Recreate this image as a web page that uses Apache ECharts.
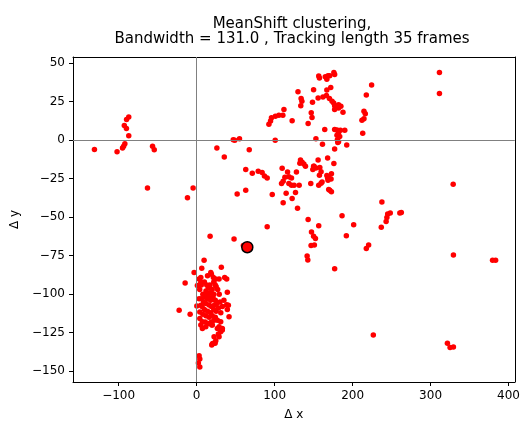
<!DOCTYPE html>
<html>
<head>
<meta charset="utf-8">
<script src="https://cdn.jsdelivr.net/npm/echarts@6/dist/echarts.min.js"></script>
<style>html,body{margin:0;padding:0;background:#fff}#c{width:523px;height:426px}</style>
</head>
<body>
<div id="c"></div>
<script>
const titleLines = ["MeanShift clustering,", "Bandwidth = 131.0 , Tracking length 35 frames"];
const xTicks = [-100, 0, 100, 200, 300, 400];
const yTicks = [-150, -125, -100, -75, -50, -25, 0, 25, 50];
const xName = "\u0394 x";
const yName = "\u0394 y";

const leftGroup = [[-131,-6],[-102,-7.5],[-95,-5],[-93.6,-4],[-92,-2.4],[-87,2.8],[-90,7.5],[-92.7,9.6],[-89.8,13.5],[-87,15],[-56.5,-4],[-54.3,-6.2],[-63,-31],[-4.5,-31],[-11.7,-37.4],[26,-5],[35.5,-11],[47,0.2],[49,0],[55,1],[67.5,-6.2],[100.8,0]];

const upperGroup = [[92.7,10.3],[94.8,12.4],[96,14.5],[101,15.6],[105.5,16.2],[110.6,16.2],[112,19.9],[122.5,12.6],[130,31.4],[134,27],[135,25.2],[133.6,22.4],[143,10.9],[147,17.8],[148,14.7],[148.6,24.6],[150,32.7],[156.6,41.7],[157.5,40.4],[165,41.2],[168.5,41.9],[167,39.5],[170.7,41.9],[176,44],[177,42.7],[172,34.2],[167,32.5],[162,28],[155.8,27.4],[166.5,29],[170.3,27],[173.7,25.2],[175.8,24.1],[177,22.4],[182,23],[185,22],[182,20.9],[177,19.9],[187.7,18.2],[224.4,35.9],[217.6,29.3],[214.6,18.8],[216.3,17.1],[212,13],[214.6,13.9],[213,4.5],[164.3,7],[177,7],[180,6.6],[184.4,6.4],[190,6.4],[182,4.9],[180,3.2],[183.5,2.4],[180.5,0.2],[182,-1],[181,-1.5],[153,1],[161.4,-2.6],[192.5,-3.2],[177,-5.8],[168,-11.5],[176,-15.2],[155.8,-12.8]];

const middleGroup = [[150,-17],[153,-18],[158,-17.7],[159.6,-20.5],[157.5,-22.7],[167,-22.9],[169.4,-24],[172.9,-21.8],[168,-24.6],[172.4,-25.2],[168.5,-26],[159.6,-28],[156.6,-29.3],[160.9,-27.1],[169.4,-32],[172.9,-33.5],[170.7,-32.5],[146.4,-28.2],[133.2,-12.8],[135.3,-14.3],[137.5,-15.4],[132.4,-14.9],[139.6,-16.9],[150.6,-16.9],[149,-19],[109.7,-18.2],[116.6,-20.7],[113.2,-24],[118.3,-23.7],[121.7,-24.6],[128,-20.7],[111,-26.7],[108.9,-28.2],[118.3,-28.2],[121.7,-29.3],[125,-29.3],[131.5,-29.3],[114.8,-34.4],[126.8,-34],[122.5,-37.8],[111,-40.6],[129.4,-44.2],[97,-35.3],[63,-19],[71.4,-21.4],[79,-20.1],[84,-21],[87,-23.3],[90.5,-24.6],[52,-35],[63,-32.5],[90.5,-56.2],[17.3,-62.4],[48,-64.1],[60,-68.4]];

const rightGroup = [[237.6,-40.2],[245,-47.9],[248.3,-47.2],[260.6,-47.2],[262.5,-47],[244,-50.2],[243,-52.8],[236.8,-56.6],[186.5,-49],[201.4,-54.9],[192,-62],[220.6,-68],[217.6,-70.3],[177,-83.5],[143,-51.5],[156.6,-55.6],[147.3,-59.6],[150,-62.4],[152.4,-63.9],[146.8,-68.4],[151,-68],[141.7,-75.2],[142.6,-77.8],[311.4,44],[311.4,30.3],[329,-28.6],[329.3,-74.6],[379.5,-78],[383.4,-78],[226.6,-126.5],[321.6,-131.8],[325,-134.6],[329.3,-134.2]];

const lowerGroup = [[9.6,-78],[-3.2,-85.9],[6.6,-83.1],[18.2,-85.9],[31.7,-82.5],[-14.7,-92.8],[3.2,-90.2],[5.4,-92.3],[21.5,-89.1],[24.5,-90.2],[28.8,-90.2],[36,-89.1],[38.6,-90.2],[23.7,-93.8],[39.4,-98.7],[-22.4,-110.4],[-8.3,-113],[0.3,-107.7],[40.7,-107.2],[39.4,-110],[41.6,-114.7],[38.6,-106.8],[4.1,-111.5],[4.1,-115.8],[7.4,-117.9],[5.4,-120],[11.8,-121.2],[20.2,-120],[26.6,-116.9],[30.9,-117.9],[28.8,-121.2],[33,-122.2],[30.9,-124.4],[27.9,-125.8],[22.4,-127.6],[24.6,-130.3],[20.2,-132.2],[23.7,-131.9],[26.6,-122.2],[33,-123.3],[28.8,-127.6],[21.5,-131.9],[19.4,-132.9],[19.4,-120],[22.4,-116.9],[3.2,-103],[5.4,-107.2],[1,-94.4],[5.4,-89.1],[7.4,-122.2],[3.2,-139.9],[4.1,-142.1],[2.3,-144.7],[4.1,-147.2]];

const coreGroup = [[10,-92],[13,-94],[15,-96],[12,-98],[17,-99],[20,-97],[22,-100],[8,-100],[11,-102],[14,-103],[18,-104],[21,-102],[24,-104],[9,-105],[12,-106],[16,-107],[19,-108],[23,-107],[26,-106],[7,-108],[10,-110],[14,-111],[18,-112],[22,-110],[25,-111],[28,-109],[8,-113],[12,-114],[16,-115],[20,-114],[24,-115],[11,-118],[15,-119],[19,-118],[13,-100],[16,-102],[6,-103],[30,-105],[29,-100],[27,-97],[17,-94],[25,-95],[14,-88],[19,-87],[22,-92],[4,-97],[6,-94],[31,-112],[33,-108],[35,-104]];

const centroid = [[65,-69.5]];

const allPoints = [].concat(leftGroup, upperGroup, middleGroup, rightGroup, lowerGroup, coreGroup);

const FONT = "DejaVu Sans";
const fmt = v => (v < 0 ? "\u2212" + Math.abs(v) : String(v));

const chart = echarts.init(document.getElementById('c'), null, {renderer: 'canvas'});
const axisCommon = {
  axisLine: {show: true, onZero: false, lineStyle: {color: '#000', width: 1}},
  splitLine: {show: false}
};
chart.setOption({
  animation: false,
  backgroundColor: '#fff',
  title: {
    text: titleLines.join('\n'),
    left: 287, top: 12, textAlign: 'center',
    textStyle: {fontFamily: FONT, fontSize: 15, fontWeight: 'normal', color: '#000', lineHeight: 15}
  },
  grid: {left: 73, right: 6, top: 57, bottom: 40, containLabel: false},
  xAxis: [
    Object.assign({}, axisCommon, {
      type: 'value', min: -158.5, max: 408, position: 'bottom',
      axisTick: {show: true, length: 4, lineStyle: {color: '#000'}, customValues: xTicks},
      axisLabel: {fontFamily: FONT, fontSize: 12, color: '#000', margin: 8, formatter: fmt, customValues: xTicks},
      name: xName, nameLocation: 'middle', nameGap: 27,
      nameTextStyle: {fontFamily: FONT, fontSize: 12, color: '#000'}
    }),
    Object.assign({}, axisCommon, {
      type: 'value', min: -158.5, max: 408, position: 'top',
      axisTick: {show: false}, axisLabel: {show: false}
    })
  ],
  yAxis: [
    Object.assign({}, axisCommon, {
      type: 'value', min: -157, max: 54, position: 'left',
      axisTick: {show: true, length: 4, lineStyle: {color: '#000'}, customValues: yTicks},
      axisLabel: {fontFamily: FONT, fontSize: 12, color: '#000', margin: 8, formatter: fmt, customValues: yTicks},
      name: yName, nameLocation: 'middle', nameGap: 46, nameRotate: 90,
      nameTextStyle: {fontFamily: FONT, fontSize: 12, color: '#000'}
    }),
    Object.assign({}, axisCommon, {
      type: 'value', min: -157, max: 54, position: 'right',
      axisTick: {show: false}, axisLabel: {show: false}
    })
  ],
  series: [
    {
      type: 'scatter', data: [], z: 1,
      markLine: {
        silent: true, symbol: 'none', animation: false,
        label: {show: false},
        lineStyle: {color: '#808080', width: 1, type: 'solid'},
        data: [{xAxis: 0}, {yAxis: 0}]
      }
    },
    {
      type: 'scatter', data: allPoints, symbol: 'circle', symbolSize: 5.5, z: 3,
      itemStyle: {color: '#ff0000', opacity: 1}
    },
    {
      type: 'scatter', data: centroid, symbol: 'circle', symbolSize: 11, z: 4,
      itemStyle: {color: '#ff0000', borderColor: '#000', borderWidth: 1.5, opacity: 1}
    }
  ]
});
</script>
</body>
</html>
